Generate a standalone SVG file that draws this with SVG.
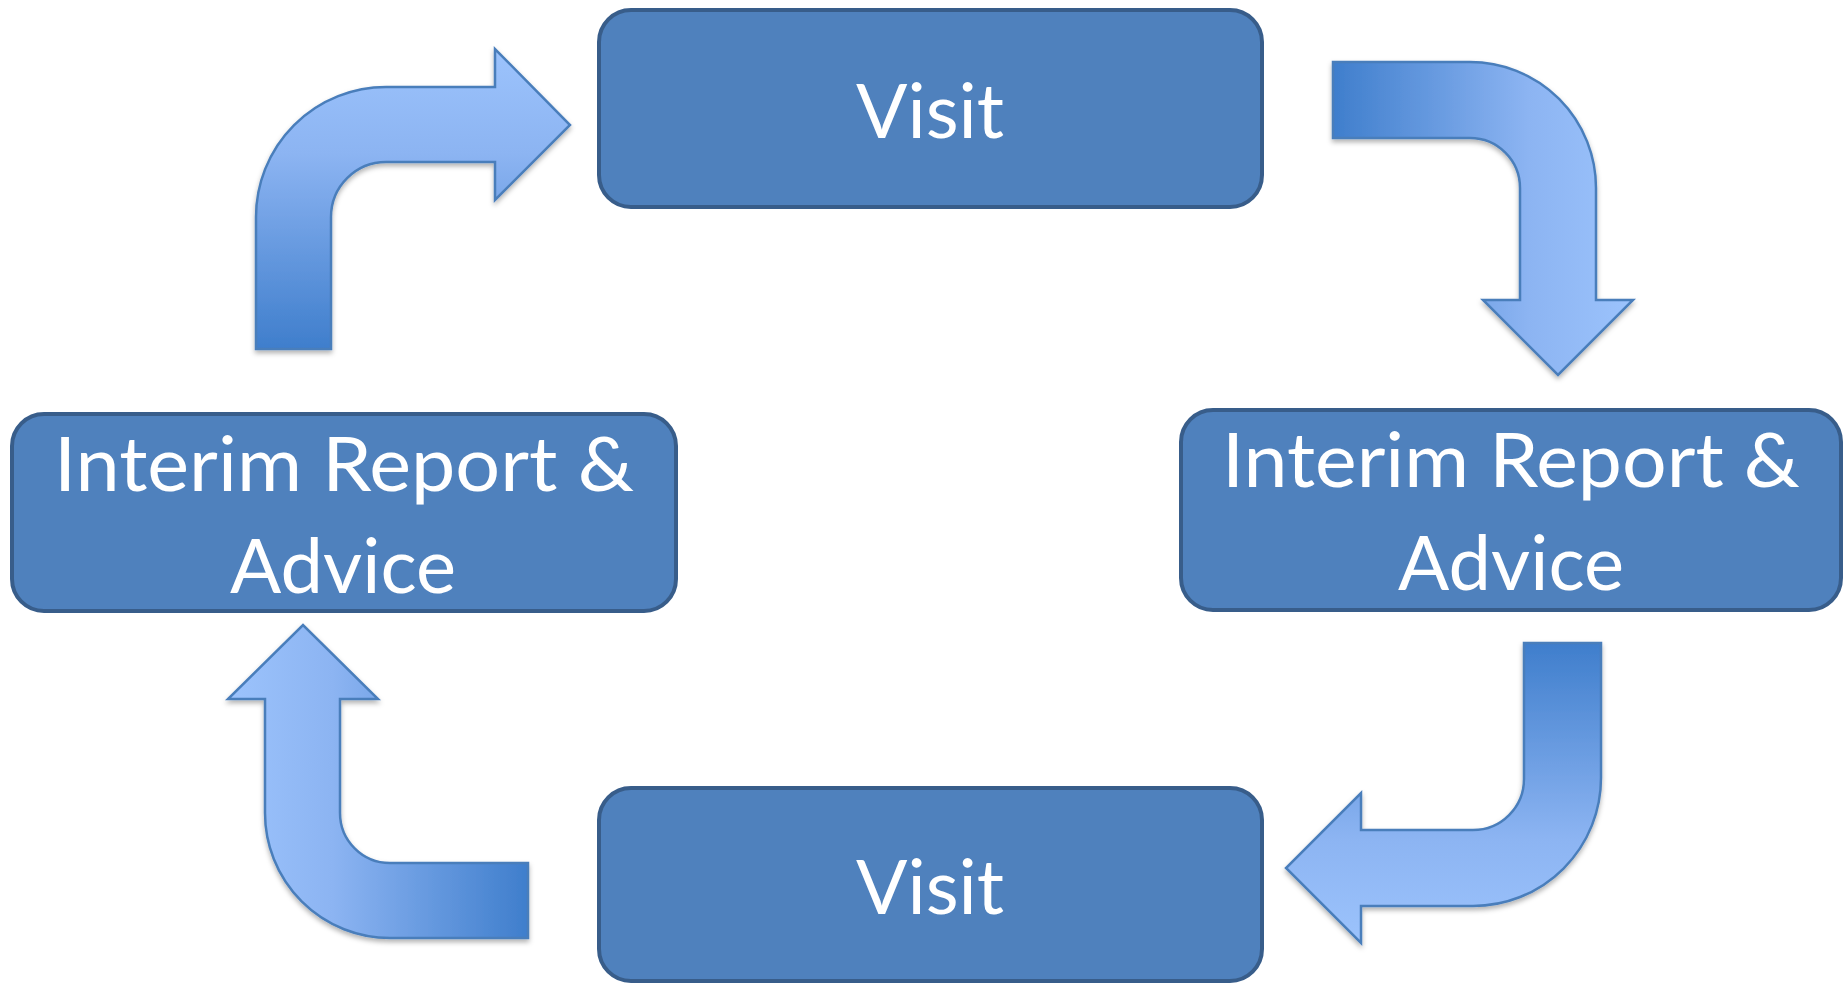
<svg xmlns="http://www.w3.org/2000/svg" width="1843" height="984" viewBox="0 0 1843 984">
<style>
.box{fill:#4F81BD;stroke:#385D8A;stroke-width:4}
.lbl{fill:#FFFFFF;font-family:Lato,"Open Sans","Liberation Sans",sans-serif;font-size:76px;text-anchor:middle}
.arr{stroke:#4A7EBB;stroke-width:2.5;stroke-linejoin:miter;filter:url(#sh)}
</style>
<defs>
<linearGradient id="gUp" x1="0" y1="0" x2="0" y2="1"><stop offset="0" stop-color="#9CC3FC"/><stop offset="0.35" stop-color="#8CB4F2"/><stop offset="1" stop-color="#3F7ECC"/></linearGradient>
<linearGradient id="gDown" x1="0" y1="0" x2="0" y2="1"><stop offset="0" stop-color="#3F7ECC"/><stop offset="0.65" stop-color="#8CB4F2"/><stop offset="1" stop-color="#9CC3FC"/></linearGradient>
<linearGradient id="gRight" x1="0" y1="0" x2="1" y2="0"><stop offset="0" stop-color="#3F7ECC"/><stop offset="0.65" stop-color="#8CB4F2"/><stop offset="1" stop-color="#9CC3FC"/></linearGradient>
<linearGradient id="gLeft" x1="0" y1="0" x2="1" y2="0"><stop offset="0" stop-color="#9CC3FC"/><stop offset="0.35" stop-color="#8CB4F2"/><stop offset="1" stop-color="#3F7ECC"/></linearGradient>
<filter id="sh" x="-10%" y="-10%" width="120%" height="125%"><feDropShadow dx="0" dy="3" stdDeviation="2.5" flood-color="#000" flood-opacity="0.3"/></filter>
</defs>
<g id="connectors">
<path id="arrow-tl" class="arr" fill="url(#gUp)" d="M256,349 L256,217 A130,130 0 0 1 386,87 L495,87 L495,49 L570,125 L495,200 L495,162 L386,162 A55,55 0 0 0 331,217 L331,349 Z"/>
<path id="arrow-tr" class="arr" fill="url(#gRight)" d="M1333,62 L1470,62 A126,126 0 0 1 1596,188 L1596,300 L1633,300 L1558,375 L1483,300 L1520,300 L1520,188 A50,50 0 0 0 1470,138 L1333,138 Z"/>
<path id="arrow-br" class="arr" fill="url(#gDown)" d="M1601,643 L1601,778 A128,128 0 0 1 1473,906 L1361,906 L1361,943 L1286,868 L1361,793 L1361,830 L1473,830 A51,51 0 0 0 1524,779 L1524,643 Z"/>
<path id="arrow-bl" class="arr" fill="url(#gLeft)" d="M528,938 L390,938 A125,125 0 0 1 265,813 L265,699 L228,699 L303,625 L378,699 L340,699 L340,813 A50,50 0 0 0 390,863 L528,863 Z"/>
</g>
<g id="node-visit-top">
<rect class="box" x="599" y="10" width="663" height="197" rx="32"/>
<text class="lbl" x="930" y="138">Visit</text>
</g>
<g id="node-report-right">
<rect class="box" x="1181" y="410" width="660" height="200" rx="32"/>
<text class="lbl" x="1511" y="487" textLength="578" lengthAdjust="spacingAndGlyphs">Interim Report &amp;</text>
<text class="lbl" x="1511" y="590" textLength="226" lengthAdjust="spacingAndGlyphs">Advice</text>
</g>
<g id="node-visit-bottom">
<rect class="box" x="599" y="788" width="663" height="193" rx="32"/>
<text class="lbl" x="930" y="914">Visit</text>
</g>
<g id="node-report-left">
<rect class="box" x="12" y="414" width="664" height="197" rx="32"/>
<text class="lbl" x="344" y="491" textLength="580" lengthAdjust="spacingAndGlyphs">Interim Report &amp;</text>
<text class="lbl" x="343" y="593" textLength="226" lengthAdjust="spacingAndGlyphs">Advice</text>
</g>
</svg>
